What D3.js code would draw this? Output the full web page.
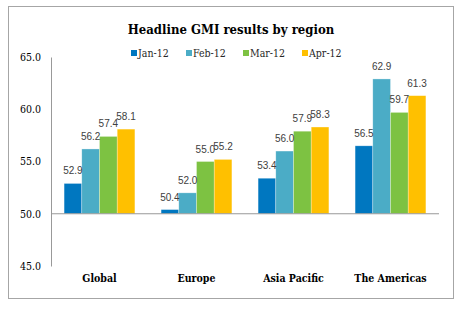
<!DOCTYPE html>
<html><head><meta charset="utf-8">
<script src="https://cdn.jsdelivr.net/npm/d3@7"></script>
<style>body{margin:0;background:#fff}svg{display:block}</style>
</head><body>
<script>
const categories = ["Global","Europe","Asia Pacific","The Americas"];
const seriesNames = ["Jan-12","Feb-12","Mar-12","Apr-12"];
const jan = [52.9,50.4,53.4,56.5];
const feb = [56.2,52.0,56.0,62.9];
const mar = [57.4,55.0,57.9,59.7];
const apr = [58.1,55.2,58.3,61.3];
const yTicks = [45,50,55,60,65];
const colors = ["#0077C0","#4BACC6","#7DC242","#FFC000"];
const series = [jan,feb,mar,apr];

const W=460,H=325;
const svg=d3.select("body").append("svg").attr("width",W).attr("height",H);
svg.append("rect").attr("x",8.5).attr("y",6.5).attr("width",445).attr("height",292)
  .attr("fill","#fff").attr("stroke","#a6a6a6").attr("stroke-width",1);

const slab="'DejaVu Serif Condensed','DejaVu Serif',serif";
svg.append("text").attr("x",231).attr("y",34).attr("text-anchor","middle")
  .attr("font-family",slab).attr("font-weight","bold").attr("font-size",13)
  .attr("fill","#000").text("Headline GMI results by region");

const y=d3.scaleLinear().domain([45,65]).range([266,57]);
const x0=d3.scaleBand().domain(categories).range([51,439]).paddingInner(0.27).paddingOuter(0.135);
const x1=d3.scaleBand().domain(seriesNames).range([0,x0.bandwidth()]);

// legend
const legX=[131,186,243,302];
seriesNames.forEach((s,i)=>{
  svg.append("rect").attr("x",legX[i]).attr("y",50).attr("width",6).attr("height",6).attr("fill",colors[i]);
  svg.append("text").attr("x",legX[i]+7).attr("y",57).attr("font-family",slab)
    .attr("font-size",10.5).attr("fill","#262626").text(s);
});

// y axis
const yAxis=d3.axisLeft(y).tickValues(yTicks).tickSize(0).tickPadding(10).tickFormat(d3.format(".1f"));
const ga=svg.append("g").attr("transform","translate(51,0)").call(yAxis);
ga.select(".domain").attr("stroke","#999");
ga.selectAll("text").attr("font-family",slab).attr("font-size",10.5).attr("fill","#000");

// bars
categories.forEach((c,ci)=>{
  series.forEach((vals,si)=>{
    const v=vals[ci];
    const bx=x0(c)+x1(seriesNames[si]);
    svg.append("rect").attr("x",bx).attr("y",y(v)).attr("width",x1.bandwidth())
      .attr("height",y(50)-y(v)).attr("fill",colors[si])
      .attr("stroke","#fff").attr("stroke-opacity",0.5).attr("stroke-width",0.6);
  });
  series.forEach((vals,si)=>{
    const v=vals[ci];
    const bx=x0(c)+x1(seriesNames[si]);
    svg.append("text").attr("x",bx+x1.bandwidth()/2).attr("y",y(v)-9).attr("text-anchor","middle")
      .attr("font-family","'Liberation Sans',Arial,sans-serif").attr("font-size",10)
      .attr("fill","#404040").text(d3.format(".1f")(v));
  });
});

// baseline at 50
svg.append("line").attr("x1",51).attr("x2",439).attr("y1",y(50)).attr("y2",y(50))
  .attr("stroke","#999").attr("stroke-width",1);

// category labels
const xAxis=d3.axisBottom(x0).tickSize(0).tickPadding(0);
const gx=svg.append("g").attr("transform","translate(0,275)").call(xAxis);
gx.select(".domain").remove();
gx.selectAll("text").attr("font-family",slab).attr("font-size",10.5).attr("font-weight","bold")
  .attr("fill","#000").attr("dy","0.71em");
</script>
</body></html>
